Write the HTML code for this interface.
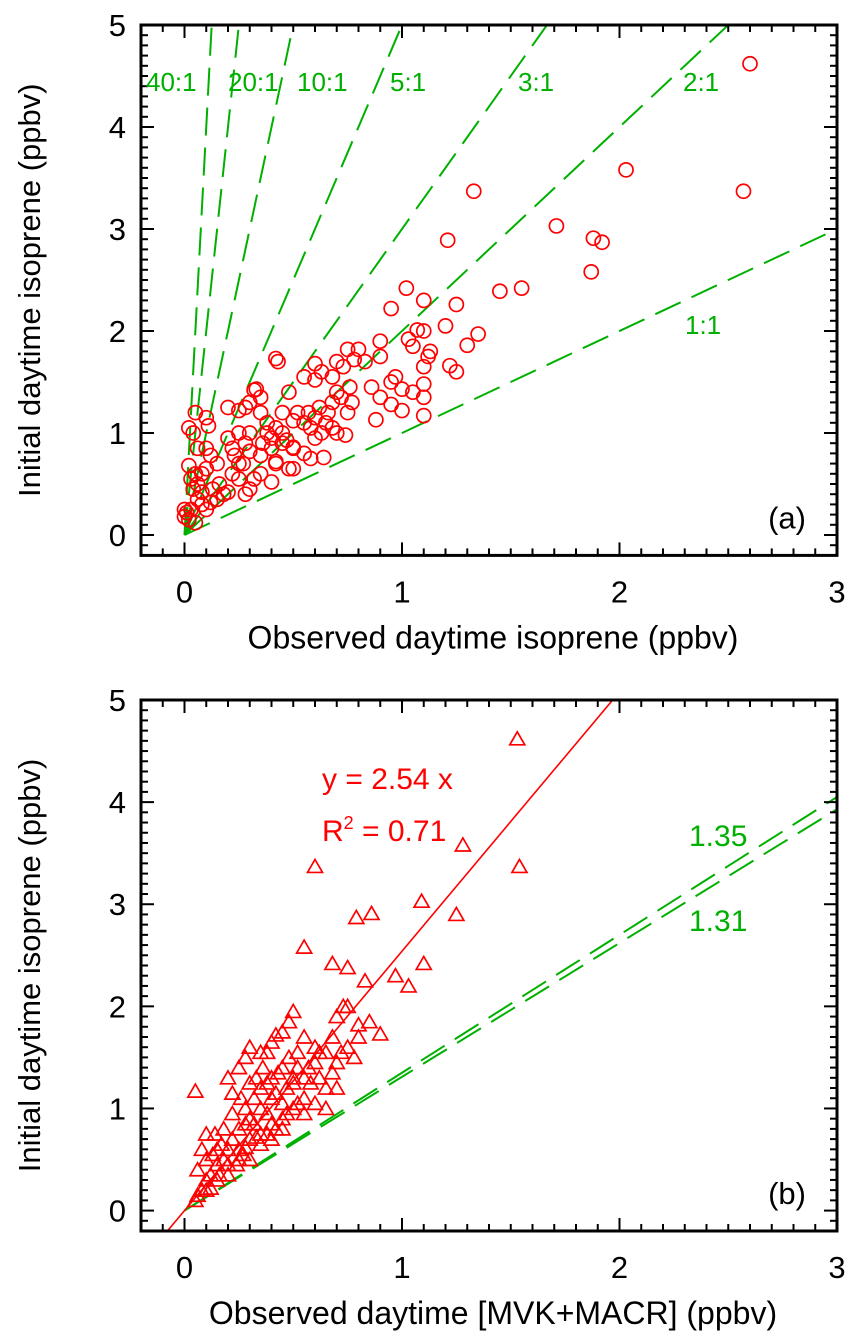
<!DOCTYPE html>
<html><head><meta charset="utf-8"><style>
html,body{margin:0;padding:0;background:#fff;}
svg{display:block;font-family:"Liberation Sans",Arial,sans-serif;}
</style></head><body>
<svg id="chart" width="857" height="1338" viewBox="0 0 857 1338" xmlns="http://www.w3.org/2000/svg"></svg>
<script>
const ratiosA = [40,20,10,5,3,2,1];
const ratioLabelsA = ["40:1","20:1","10:1","5:1","3:1","2:1","1:1"];
const slopesB = [1.35,1.31];
const fitSlope = 2.54;
const xTicks = [0,1,2,3];
const yTicks = [0,1,2,3,4,5];
const pointsA = [[2.6,4.62],[2.57,3.37],[2.03,3.58],[1.33,3.37],[1.71,3.03],[1.88,2.91],[1.92,2.87],[1.87,2.58],[1.21,2.89],[1.45,2.39],[1.55,2.42],[1.02,2.42],[1.1,2.3],[1.25,2.26],[0.95,2.22],[1.35,1.97],[1.3,1.86],[1.2,2.05],[1.1,2.0],[1.07,2.01],[1.03,1.92],[1.05,1.85],[0.9,1.9],[0.75,1.82],[0.8,1.82],[0.78,1.72],[0.7,1.7],[0.6,1.68],[0.42,1.73],[0.43,1.70],[0.63,1.6],[0.68,1.55],[0.55,1.55],[0.6,1.52],[0.9,1.75],[0.95,1.5],[0.97,1.55],[1.0,1.43],[1.05,1.4],[1.1,1.65],[1.13,1.8],[1.12,1.75],[1.22,1.66],[1.25,1.6],[1.1,1.48],[1.1,1.35],[1.1,1.17],[1.0,1.22],[0.95,1.28],[0.88,1.13],[0.86,1.45],[0.9,1.35],[0.83,1.7],[0.73,1.65],[0.75,1.2],[0.76,1.45],[0.77,1.3],[0.72,1.35],[0.7,1.4],[0.68,1.3],[0.66,1.2],[0.65,1.1],[0.63,1.0],[0.6,1.15],[0.57,1.2],[0.55,1.1],[0.62,1.25],[0.58,1.05],[0.68,1.05],[0.7,1.0],[0.74,0.98],[0.64,0.76],[0.55,0.8],[0.5,0.86],[0.5,1.12],[0.52,1.2],[0.48,1.4],[0.45,1.2],[0.42,1.05],[0.4,0.95],[0.38,1.0],[0.35,1.2],[0.32,1.42],[0.33,1.43],[0.3,1.3],[0.28,1.25],[0.25,1.22],[0.2,1.25],[0.35,1.35],[0.36,0.9],[0.35,0.78],[0.42,0.72],[0.45,0.9],[0.47,0.93],[0.5,0.85],[0.48,0.65],[0.42,0.7],[0.4,0.52],[0.35,0.6],[0.3,0.45],[0.3,0.82],[0.28,0.9],[0.25,0.7],[0.22,0.85],[0.2,0.95],[0.22,0.6],[0.2,0.42],[0.23,0.78],[0.27,0.7],[0.25,0.55],[0.18,0.4],[0.16,0.5],[0.15,0.7],[0.13,0.45],[0.12,0.78],[0.1,0.65],[0.08,0.6],[0.1,0.85],[0.1,1.15],[0.11,1.07],[0.05,1.2],[0.04,1.0],[0.02,1.05],[0.06,0.85],[0.05,0.6],[0.02,0.68],[0.04,0.45],[0.06,0.35],[0.03,0.25],[0.01,0.22],[0.0,0.18],[0.02,0.15],[0.05,0.12],[0.08,0.3],[0.1,0.25],[0.12,0.32],[0.06,0.5],[0.0,0.25],[0.15,0.35],[0.03,0.55],[0.08,0.42],[0.28,0.4],[0.32,0.55],[0.58,0.75],[0.5,0.65],[0.3,1.0],[0.38,1.1],[0.25,1.0],[0.6,0.95],[0.4,0.85],[0.45,1.0]];
const pointsB = [[1.53,4.62],[1.28,3.58],[1.54,3.37],[0.6,3.37],[1.09,3.03],[0.86,2.91],[0.79,2.87],[1.25,2.9],[0.55,2.58],[0.68,2.42],[0.75,2.38],[1.1,2.42],[0.83,2.25],[1.03,2.2],[0.97,2.3],[0.9,1.73],[0.85,1.85],[0.8,1.82],[0.75,2.0],[0.73,2.0],[0.7,1.9],[0.68,1.7],[0.72,1.55],[0.78,1.5],[0.65,1.55],[0.6,1.6],[0.55,1.7],[0.5,1.95],[0.48,1.85],[0.45,1.75],[0.42,1.72],[0.4,1.65],[0.38,1.55],[0.35,1.55],[0.3,1.6],[0.28,1.5],[0.52,1.4],[0.5,1.25],[0.55,1.3],[0.47,1.2],[0.45,1.05],[0.42,1.15],[0.4,1.1],[0.38,0.95],[0.35,1.0],[0.32,1.1],[0.3,0.9],[0.28,0.85],[0.25,0.8],[0.22,0.7],[0.2,0.6],[0.18,0.5],[0.15,0.45],[0.12,0.35],[0.1,0.3],[0.08,0.2],[0.06,0.15],[0.05,0.1],[0.05,1.17],[0.1,0.75],[0.08,0.6],[0.06,0.4],[0.14,0.75],[0.2,1.3],[0.22,1.15],[0.25,1.4],[0.3,1.25],[0.33,1.3],[0.36,1.4],[0.4,1.3],[0.45,1.4],[0.48,1.5],[0.52,1.55],[0.6,1.45],[0.62,1.3],[0.65,1.2],[0.68,1.35],[0.58,1.25],[0.55,1.1],[0.5,1.0],[0.45,0.9],[0.4,0.85],[0.35,0.75],[0.3,0.7],[0.25,0.6],[0.2,0.45],[0.16,0.35],[0.12,0.22],[0.18,0.8],[0.15,0.6],[0.1,0.5],[0.22,0.95],[0.26,1.1],[0.28,1.0],[0.38,1.25],[0.43,1.35],[0.5,1.3],[0.57,1.4],[0.7,1.45],[0.75,1.6],[0.8,1.7],[0.62,1.55],[0.35,1.2],[0.32,0.85],[0.27,0.55],[0.24,0.45],[0.3,0.5],[0.4,0.7],[0.45,0.8],[0.55,0.95],[0.6,1.05],[0.65,1.0],[0.7,1.2],[0.17,0.65],[0.13,0.55],[0.2,0.35],[0.35,0.65],[0.38,0.75],[0.42,0.8],[0.47,0.95],[0.52,1.05],[0.25,0.5],[0.28,0.62],[0.33,0.72],[0.15,0.3],[0.1,0.2]];

const NS="http://www.w3.org/2000/svg";
const svg=document.getElementById('chart');
function mk(tag,attrs,parent){const e=document.createElementNS(NS,tag);for(const k in attrs)e.setAttribute(k,attrs[k]);(parent||svg).appendChild(e);return e;}

const X0=141,X1=837,XMIN=-0.2,XMAX=3;
function sx(v){return X0+(v-XMIN)/(XMAX-XMIN)*(X1-X0);}
function makeSy(top,bottom){return v=>bottom-(v+0.2)/5.2*(bottom-top);}

function panel(name,top,bottom,xlabel,tag){
  const g=mk('g',{});
  
  
  const sy=makeSy(top,bottom);
  const clipId='clip-'+name;
  const cp=mk('clipPath',{id:clipId},g);
  mk('rect',{x:X0,y:top,width:X1-X0,height:bottom-top},cp);
  const plot=mk('g',{'clip-path':'url(#'+clipId+')'},g);
  
  
  const tg=mk('g',{stroke:'#000','stroke-width':2},g);
  
  
  for(let i=-2;i<=30;i++){const v=i/10,x=sx(v);const L=(i%10===0)?13:7;
    mk('line',{x1:x,y1:bottom,x2:x,y2:bottom-L},tg);mk('line',{x1:x,y1:top,x2:x,y2:top+L},tg);}
  for(let i=-2;i<=50;i++){const v=i/10,y=sy(v);const L=(i%10===0)?13:7;
    mk('line',{x1:X0,y1:y,x2:X0+L,y2:y},tg);mk('line',{x1:X1,y1:y,x2:X1-L,y2:y},tg);}
  const frame=mk('rect',{x:X0,y:top,width:X1-X0,height:bottom-top,fill:'none',stroke:'#000','stroke-width':3},g);
  
  
  xTicks.forEach(v=>{const t=mk('text',{x:sx(v),y:bottom+47,'font-size':31,'text-anchor':'middle'},g);t.textContent=v;
    });
  yTicks.forEach(v=>{const t=mk('text',{x:X0-15,y:sy(v)+11,'font-size':31,'text-anchor':'end'},g);t.textContent=v;
    });
  const xl=mk('text',{x:(X0+X1)/2+4,y:bottom+93,'font-size':32,'text-anchor':'middle'},g);xl.textContent=xlabel;
  
  const cy=(top+bottom)/2;
  const yl=mk('text',{x:40,y:cy,'font-size':31,'text-anchor':'middle',transform:'rotate(-90 40 '+cy+')'},g);yl.textContent='Initial daytime isoprene (ppbv)';
  
  const pt=mk('text',{x:806,y:bottom-27,'font-size':31,'text-anchor':'end'},g);pt.textContent=tag;
  
  return {g,plot,sy};
}

// Panel a
const A=panel('panel-a',25,555.4,'Observed daytime isoprene (ppbv)','(a)');
ratiosA.forEach((k,i)=>{
  const xe=Math.min(3,5.2/k);
  const l=mk('line',{x1:sx(0),y1:A.sy(0),x2:sx(xe),y2:A.sy(k*xe),stroke:'#00b000','stroke-width':2,'stroke-dasharray':'28,12'},A.plot);
  
  
});
const labPos=[[146,91],[228,91],[297,91],[390,91],[518,91],[683,91],[685,334]];
ratioLabelsA.forEach((s,i)=>{const t=mk('text',{x:labPos[i][0],y:labPos[i][1],'font-size':26,fill:'#00b000'},A.g);t.textContent=s;
  });
pointsA.forEach(p=>{const c=mk('circle',{cx:sx(p[0]),cy:A.sy(p[1]),r:7,fill:'none',stroke:'#ff0000','stroke-width':1.7},A.plot);
  });

// Panel b
const B=panel('panel-b',700,1231,'Observed daytime [MVK+MACR] (ppbv)','(b)');
slopesB.forEach(k=>{
  const l=mk('line',{x1:sx(0),y1:B.sy(0),x2:sx(3),y2:B.sy(3*k),stroke:'#00b000','stroke-width':2,'stroke-dasharray':'28,12'},B.plot);
  
  
});
const fit=mk('line',{x1:sx(-0.2/fitSlope),y1:B.sy(-0.2),x2:sx(5.2/fitSlope),y2:B.sy(5.2),stroke:'#ff0000','stroke-width':1.6},B.plot);

pointsB.forEach(p=>{const x=sx(p[0]),y=B.sy(p[1]);
  const t=mk('polygon',{points:(x-7.5)+','+(y+6)+' '+(x+7.5)+','+(y+6)+' '+x+','+(y-7),fill:'none',stroke:'#ff0000','stroke-width':1.7},B.plot);
  });
const e1=mk('text',{x:322,y:789,'font-size':30,fill:'#ff0000'},B.g);e1.textContent='y = '+fitSlope.toFixed(2)+' x';

const e2=mk('text',{x:322,y:841,'font-size':30,fill:'#ff0000'},B.g);

e2.innerHTML='R<tspan dy="-12" font-size="18">2</tspan><tspan dy="12"> = 0.71</tspan>';
const l1=mk('text',{x:689,y:846,'font-size':30,fill:'#00b000'},B.g);l1.textContent='1.35';

const l2=mk('text',{x:689,y:931,'font-size':30,fill:'#00b000'},B.g);l2.textContent='1.31';

</script>
</body></html>
